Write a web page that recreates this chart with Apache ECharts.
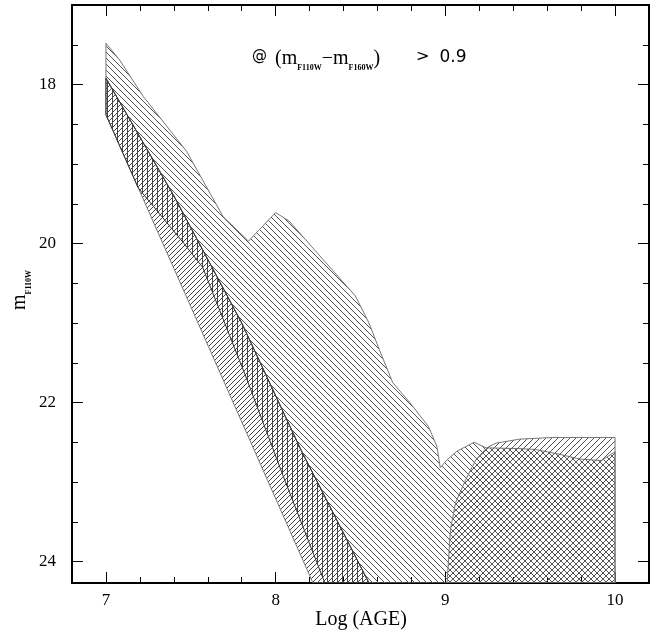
<!DOCTYPE html>
<html>
<head>
<meta charset="utf-8">
<script src="https://cdn.jsdelivr.net/npm/echarts@6/dist/echarts.min.js"></script>
<style>html,body{margin:0;padding:0;background:#fff}#c{width:665px;height:639px}</style>
</head>
<body>
<div id="c"></div>
<script>
// ---------------- data (Log AGE, m_F110W) ----------------
const xMajorTicks = [7, 8, 9, 10];
const yMajorTicks = [18, 20, 22, 24];
const xRange = [6.8, 10.2];
const yRange = [17, 24.27];

// upper envelope of the "\\\" hatched region
const regionAUpper = [
  [7.0, 17.48], [7.08, 17.69], [7.22, 18.15], [7.475, 18.84], [7.69, 19.66],
  [7.84, 19.97], [8.0, 19.61], [8.08, 19.72], [8.47, 20.66], [8.55, 21.0],
  [8.61, 21.33], [8.69, 21.75], [8.79, 22.0], [8.9, 22.3], [8.95, 22.55],
  [8.97, 22.82], [9.01, 22.72], [9.07, 22.61], [9.17, 22.5], [9.24, 22.57],
  [9.44, 22.58], [9.53, 22.59], [9.67, 22.65], [9.79, 22.71], [9.92, 22.73],
  [9.97, 22.66], [10.0, 22.62], [10.0, 24.27]
];
// right edge of the vertical-hatched band (shared lower boundary)
const boundaryRV = [[7.0, 17.92], [7.4, 19.4], [7.8, 21.0], [8.15, 22.6], [8.55, 24.27]];
// left edge of the "///" band
const boundaryL1 = [[7.0, 17.92], [7.0, 18.38], [8.22, 24.27]];
// left edge of the vertical-hatched band
const boundaryVLeft = [
  [7.0, 17.92], [7.0, 18.38], [7.19, 19.3], [7.46, 20.0], [7.57, 20.3],
  [7.82, 21.65], [8.04, 22.9], [8.29, 24.27]
];
// old-population "///" region
const regionB = [
  [9.01, 24.27], [9.03, 23.6], [9.06, 23.26], [9.12, 22.97], [9.18, 22.72],
  [9.24, 22.58], [9.26, 22.55], [9.3, 22.51], [9.44, 22.46], [9.63, 22.44],
  [10.0, 22.44], [10.0, 24.27]
];

const rev = a => a.slice().reverse();
const polyA = regionAUpper.concat(rev(boundaryRV));
const polyP = boundaryL1.concat(rev(boundaryRV));
const polyV = boundaryVLeft.concat(rev(boundaryRV));
const polyB = regionB;

// ---------------- hatch patterns ----------------
function hatch(kind, size, color) {
  const c = document.createElement('canvas');
  c.width = size; c.height = size;
  const ctx = c.getContext('2d');
  ctx.strokeStyle = color; ctx.lineWidth = 1;
  ctx.beginPath();
  if (kind === 'v') {
    const x = Math.floor(size / 2) + 0.5;
    ctx.moveTo(x, 0); ctx.lineTo(x, size);
  } else {
    for (let k = -1; k <= 1; k++) {
      if (kind === 'b') { ctx.moveTo(k * size, 0); ctx.lineTo(k * size + size, size); }
      else { ctx.moveTo(k * size, size); ctx.lineTo(k * size + size, 0); }
    }
  }
  ctx.stroke();
  return { image: c, repeat: 'repeat' };
}

function polySeries(points, fill, stroke) {
  return {
    type: 'custom',
    coordinateSystem: 'cartesian2d',
    xAxisIndex: 0, yAxisIndex: 0,
    data: points,
    silent: true,
    renderItem: function (params, api) {
      if (params.context.rendered) return;
      params.context.rendered = true;
      const pts = [];
      for (let i = 0; i < points.length; i++) pts.push(api.coord(points[i]));
      const cs = params.coordSys;
      return {
        type: 'polygon',
        shape: { points: pts },
        style: { fill: fill, stroke: stroke, lineWidth: 1 },
        clipPath: { type: 'rect', shape: { x: cs.x, y: cs.y, width: cs.width, height: cs.height } }
      };
    }
  };
}

const serif = 'Liberation Serif';
const axisCommon = (pos, major, labels) => ({
  type: 'value', position: pos,
  min: xRange[0], max: xRange[1], interval: 0.2,
  axisLine: { show: true, lineStyle: { color: '#000', width: 2 } },
  axisTick: major
    ? { show: true, inside: true, length: 11, customValues: xMajorTicks, lineStyle: { color: '#000', width: 1 } }
    : { show: true, inside: true, length: 6, lineStyle: { color: '#000', width: 1 } },
  axisLabel: labels
    ? { show: true, customValues: xMajorTicks, margin: 9, fontFamily: serif, fontSize: 17, color: '#000',
        formatter: v => (Math.abs(v - Math.round(v)) < 1e-6 ? String(Math.round(v)) : '') }
    : { show: false },
  splitLine: { show: false }
});
const yAxisCommon = (pos, major, labels) => ({
  type: 'value', position: pos, inverse: true,
  min: yRange[0], max: yRange[1], interval: 0.5,
  axisLine: { show: true, lineStyle: { color: '#000', width: 2 } },
  axisTick: major
    ? { show: true, inside: true, length: 11, customValues: yMajorTicks, lineStyle: { color: '#000', width: 1 } }
    : { show: true, inside: true, length: 6, lineStyle: { color: '#000', width: 1 } },
  axisLabel: labels
    ? { show: true, customValues: yMajorTicks, margin: 16, fontFamily: serif, fontSize: 17, color: '#000',
        formatter: v => (Math.abs(v / 2 - Math.round(v / 2)) < 1e-6 ? String(Math.round(v)) : '') }
    : { show: false },
  splitLine: { show: false }
});

const chart = echarts.init(document.getElementById('c'), null, { renderer: 'canvas' });
const subStyle = { fontFamily: serif, fontWeight: 'bold', fontSize: 8, lineHeight: 10, verticalAlign: 'top', padding: [15, 0, 0, 0], fill: '#000', color: '#000' };
const mStyle = { fontFamily: serif, fontSize: 20, lineHeight: 20, verticalAlign: 'top', fill: '#000', color: '#000' };

chart.setOption({
  animation: false,
  backgroundColor: '#fff',
  grid: { left: 72, right: 16, top: 5, bottom: 56, containLabel: false },
  xAxis: [axisCommon('bottom', false, false), axisCommon('bottom', true, true),
          axisCommon('top', false, false), axisCommon('top', true, false)],
  yAxis: [yAxisCommon('left', false, false), yAxisCommon('left', true, true),
          yAxisCommon('right', false, false), yAxisCommon('right', true, false)],
  series: [
    polySeries(polyA, hatch('b', 6, '#555'), '#777'),
    polySeries(polyB, hatch('f', 6, '#555'), '#777'),
    polySeries(polyP, hatch('f', 5, '#444'), '#777'),
    polySeries(polyV, hatch('v', 5, '#444'), '#333')
  ],
  graphic: [
    {
      type: 'text', x: 252, y: 49, silent: true,
      style: {
        text: '{a|@}{p1|(}{m|m}{s|F110W}{d|−}{m|m}{s|F160W}{p2|)}{g|>}{n|0.9}',
        rich: {
          a: { fontFamily: 'DejaVu Sans', fontSize: 15, lineHeight: 20, verticalAlign: 'top', fill: '#000' },
          p1: Object.assign({}, mStyle, { padding: [0, 0, 0, 8] }),
          p2: mStyle,
          m: mStyle,
          d: mStyle,
          s: subStyle,
          g: { fontFamily: 'DejaVu Sans', fontSize: 16, lineHeight: 20, verticalAlign: 'top', padding: [0, 0, 0, 36], fill: '#000' },
          n: { fontFamily: 'DejaVu Sans', fontSize: 17, lineHeight: 20, verticalAlign: 'top', padding: [0, 0, 0, 10], fill: '#000' }
        }
      }
    },
    {
      type: 'text', x: 361, y: 620, silent: true,
      style: { text: 'Log (AGE)', fontFamily: serif, fontSize: 20, fill: '#000', align: 'center', verticalAlign: 'middle' }
    },
    {
      type: 'text', x: 20, y: 290, rotation: Math.PI / 2, silent: true,
      style: {
        text: '{m|m}{s|F110W}', align: 'center', verticalAlign: 'middle',
        rich: { m: mStyle, s: subStyle }
      }
    }
  ]
});
</script>
</body>
</html>
